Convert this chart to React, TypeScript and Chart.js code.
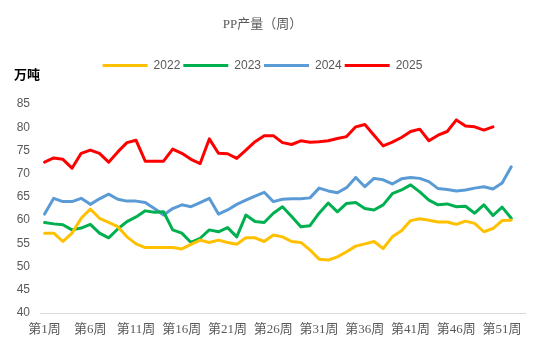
import { useEffect, useRef } from 'react';
import { Chart, registerables } from 'chart.js';

Chart.register(...registerables);

const titleText = 'PP产量（周）';
const unitLabel = '万吨';

const weekLabels: string[] = Array.from({ length: 53 }, (_, i) => `第${i + 1}周`);

const seriesNames = ['2022', '2023', '2024', '2025'];
const seriesColors = ['#FFC000', '#00B050', '#5B9BD5', '#FF0000'];

const values2022 = [
  57.2, 57.2, 55.4, 57.2, 60.4, 62.4, 60.4, 59.5, 58.6, 56.4,
  54.9, 54.1, 54.1, 54.1, 54.1, 53.8, 54.8, 55.7, 55.2, 55.7,
  55.2, 54.8, 56.2, 56.2, 55.4, 56.8, 56.4, 55.4, 55.2, 53.6,
  51.6, 51.4, 52.1, 53.2, 54.4, 54.9, 55.4, 53.9, 56.4, 57.7,
  59.9, 60.3, 60.0, 59.6, 59.6, 59.1, 59.8, 59.3, 57.5, 58.2,
  59.9, 60.0,
];
const values2023 = [
  59.5, 59.2, 59.0, 57.9, 58.3, 59.1, 57.2, 56.2, 58.1, 59.7,
  60.7, 62.0, 61.7, 61.8, 57.9, 57.2, 55.2, 56.1, 57.9, 57.5,
  58.4, 56.4, 61.1, 59.7, 59.5, 61.5, 62.9, 60.8, 58.6, 58.8,
  61.5, 63.7, 61.8, 63.6, 63.8, 62.5, 62.2, 63.3, 65.7, 66.5,
  67.6, 66.1, 64.3, 63.3, 63.5, 62.9, 63.0, 61.5, 63.3, 61.0,
  62.8, 60.4,
];
const values2024 = [
  61.3, 64.7, 64.0, 64.0, 64.7, 63.4, 64.6, 65.6, 64.5, 64.1,
  64.1, 63.8, 62.5, 61.1, 62.5, 63.3, 62.9, 63.8, 64.7, 61.3,
  62.2, 63.4, 64.3, 65.2, 66.0, 64.0, 64.5, 64.6, 64.6, 64.8,
  66.9, 66.3, 65.9, 67.0, 69.2, 67.2, 69.0, 68.7, 67.8, 68.9,
  69.2, 69.0, 68.3, 66.8, 66.6, 66.3, 66.5, 66.9, 67.2, 66.7,
  68.0, 71.5,
];
const values2025 = [
  72.5, 73.4, 73.1, 71.2, 74.4, 75.1, 74.4, 72.5, 74.7, 76.7,
  77.2, 72.7, 72.7, 72.7, 75.3, 74.4, 73.1, 72.2, 77.5, 74.4,
  74.3, 73.3, 75.1, 76.9, 78.2, 78.2, 76.7, 76.3, 77.1, 76.8,
  76.9, 77.1, 77.6, 78.0, 80.1, 80.6, 78.3, 76.0, 76.8, 77.8,
  79.1, 79.6, 77.1, 78.3, 79.1, 81.6, 80.3, 80.1, 79.4, 80.1,
];

const yMin = 40;
const yMax = 85;
const yStep = 5;
const labelEvery = 5;

const allValues = [values2022, values2023, values2024, values2025];

const unitPlugin = {
  id: 'unitLabel',
  afterDraw(chart: any) {
    const ctx = chart.ctx;
    ctx.save();
    ctx.font = "bold 13px 'Noto Sans CJK SC', sans-serif";
    ctx.fillStyle = '#000000';
    ctx.textBaseline = 'middle';
    ctx.textAlign = 'left';
    ctx.fillText(unitLabel, 14, 74);
    ctx.restore();
  },
};

const legendSpacer = {
  id: 'legendSpacer',
  afterInit(chart: any) {
    const legend = chart.legend;
    if (!legend) return;
    const orig = legend.fit;
    legend.fit = function () {
      orig.call(this);
      this.height += 22.5;
    };
  },
};

export default function App() {
  const canvasRef = useRef<HTMLCanvasElement | null>(null);

  useEffect(() => {
    const canvas = canvasRef.current;
    if (!canvas) return;
    const chart = new Chart(canvas, {
      type: 'line',
      data: {
        labels: weekLabels,
        datasets: seriesNames.map((name, i) => ({
          label: name,
          data: allValues[i],
          borderColor: seriesColors[i],
          backgroundColor: seriesColors[i],
          borderWidth: 3,
          pointRadius: 0,
          pointHoverRadius: 0,
          tension: 0,
          fill: false,
          borderJoinStyle: 'round' as const,
          borderCapStyle: 'round' as const,
        })),
      },
      options: {
        responsive: false,
        animation: false,
        events: [],
        layout: { padding: { top: 0, left: 0, right: 25, bottom: 0 } },
        plugins: {
          title: {
            display: true,
            text: titleText,
            color: '#595959',
            font: { size: 13, weight: 'normal', family: "'Liberation Serif', 'Noto Sans CJK SC', serif" },
            padding: { top: 17, bottom: 24 },
          },
          legend: {
            display: true,
            position: 'top',
            align: 'center',
            labels: {
              boxWidth: 45,
              boxHeight: 3,
              padding: 3,
              color: '#595959',
              font: { size: 12, family: "'Liberation Sans', sans-serif" },
              generateLabels: (c: any) =>
                c.data.datasets.map((ds: any, i: number) => ({
                  text: ds.label,
                  fillStyle: ds.borderColor,
                  strokeStyle: ds.borderColor,
                  lineWidth: 0,
                  hidden: false,
                  datasetIndex: i,
                  fontColor: '#595959',
                })),
            },
          },
          tooltip: { enabled: false },
        },
        scales: {
          x: {
            type: 'category',
            offset: true,
            grid: { display: false, drawTicks: false },
            border: { display: true, color: '#D9D9D9', width: 1 },
            ticks: {
              autoSkip: false,
              maxRotation: 0,
              minRotation: 0,
              padding: 9,
              color: '#595959',
              font: { size: 13, family: "'Liberation Serif', 'Noto Sans CJK SC', serif" },
              callback: (_v: any, idx: number) => (idx % labelEvery === 0 ? weekLabels[idx] : ''),
            },
            afterFit: (scale: any) => {
              scale.height = 43;
            },
          },
          y: {
            min: yMin,
            max: yMax,
            grid: { display: false, drawTicks: false },
            border: { display: false },
            ticks: {
              stepSize: yStep,
              padding: 10,
              color: '#595959',
              font: { size: 12, family: "'Liberation Sans', sans-serif" },
            },
            afterFit: (scale: any) => {
              scale.width = 40;
            },
          },
        },
      },
      plugins: [unitPlugin, legendSpacer],
    });
    return () => chart.destroy();
  }, []);

  return (
    <div style={{ position: 'fixed', left: 0, top: 0, width: 550, height: 356, background: '#ffffff' }}>
      <canvas ref={canvasRef} width={550} height={356} style={{ display: 'block' }} />
    </div>
  );
}
